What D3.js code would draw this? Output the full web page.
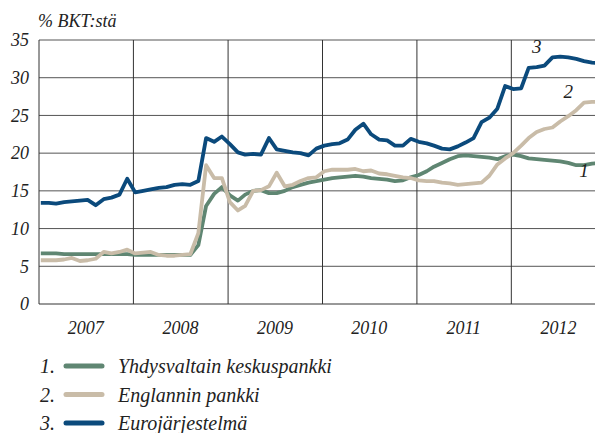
<!DOCTYPE html>
<html>
<head>
<meta charset="utf-8">
<script src="https://cdn.jsdelivr.net/npm/d3@7"></script>
<style>
  body { margin: 0; background: #fff; }
</style>
</head>
<body>
<div id="chart"></div>
<script>
// monthly values, Jan 2007 - Dec 2012
var startYear = 2007;
var years = ["2007", "2008", "2009", "2010", "2011", "2012"];
var yTicks = [0, 5, 10, 15, 20, 25, 30, 35];

var fed = [
  6.7, 6.7, 6.7, 6.6, 6.6, 6.6, 6.6, 6.6, 6.6, 6.6, 6.6, 6.6,
  6.5, 6.5, 6.5, 6.5, 6.5, 6.5, 6.5, 6.5, 7.8, 13.0, 14.6, 15.5,
  14.4, 13.7, 14.5, 15.0, 15.1, 14.7, 14.7, 15.0, 15.5, 15.8, 16.1, 16.3,
  16.5, 16.7, 16.8, 16.9, 17.0, 16.9, 16.7, 16.6, 16.5, 16.3, 16.4, 16.8,
  17.1, 17.6, 18.2, 18.7, 19.2, 19.6, 19.7, 19.6, 19.5, 19.4, 19.2, 19.6,
  19.8, 19.6, 19.3, 19.2, 19.1, 19.0, 18.9, 18.7, 18.4, 18.4, 18.6, 18.7
];
var boe = [
  5.8, 5.8, 5.8, 5.9, 6.1, 5.7, 5.8, 6.0, 6.9, 6.7, 6.9, 7.2,
  6.7, 6.8, 6.9, 6.5, 6.4, 6.4, 6.5, 6.6, 9.4, 18.4, 16.7, 16.7,
  13.5, 12.4, 13.0, 15.0, 15.1, 15.6, 17.4, 15.6, 15.8, 16.3, 16.7, 16.8,
  17.6, 17.8, 17.8, 17.8, 17.9, 17.6, 17.7, 17.3, 17.2, 17.0, 16.8, 16.7,
  16.4, 16.3, 16.3, 16.1, 16.0, 15.8, 15.9, 16.0, 16.1, 17.0, 18.5, 19.3,
  20.0, 21.0, 22.0, 22.8, 23.2, 23.4, 24.2, 24.9, 25.7, 26.7, 26.8, 26.8
];
var ecb = [
  13.4, 13.4, 13.3, 13.5, 13.6, 13.7, 13.8, 13.1, 13.9, 14.1, 14.5, 16.6,
  14.8, 15.0, 15.2, 15.4, 15.5, 15.8, 15.9, 15.8, 16.3, 22.0, 21.5, 22.2,
  21.2, 20.1, 19.8, 19.9, 19.8, 22.0, 20.5, 20.3, 20.1, 20.0, 19.7, 20.6,
  21.0, 21.2, 21.3, 21.8, 23.1, 23.9, 22.5, 21.8, 21.7, 21.0, 21.0, 21.9,
  21.5, 21.3, 21.0, 20.6, 20.5, 20.9, 21.4, 22.0, 24.1, 24.7, 25.9, 28.9,
  28.5, 28.6, 31.3, 31.4, 31.6, 32.7, 32.8, 32.7, 32.5, 32.2, 32.0, 31.9
];

var seriesNames = ["Yhdysvaltain keskuspankki", "Englannin pankki", "Eurojärjestelmä"];
var seriesColors = ["#5f8672", "#c9bca8", "#0b4a7c"];
var seriesData = [fed, boe, ecb];

var serif = "'Liberation Serif', 'Times New Roman', Times, 'DejaVu Serif', serif";

var svgWidth = 595;
var svgHeight = 433;
var margin = { top: 40, right: -11, bottom: 129, left: 39 };
var width = svgWidth - margin.left - margin.right;
var height = svgHeight - margin.top - margin.bottom;

var svg = d3.select("#chart")
  .append("svg")
  .attr("width", svgWidth)
  .attr("height", svgHeight)
  .attr("font-family", serif)
  .attr("font-style", "italic")
  .attr("fill", "#222");

var chart = svg.append("g")
  .attr("transform", `translate(${margin.left}, ${margin.top})`);

var x = d3.scaleTime()
  .domain([new Date(startYear, 0, 1), new Date(startYear + years.length, 0, 1)])
  .range([0, width]);
var y = d3.scaleLinear().domain([0, 35]).range([height, 0]);

function monthDate(i) { return new Date(startYear, i, 8); }

// horizontal grid
chart.append("g")
  .selectAll("line")
  .data(yTicks)
  .enter()
  .append("line")
  .attr("x1", 0)
  .attr("x2", width)
  .attr("y1", d => y(d))
  .attr("y2", d => y(d))
  .attr("stroke", d => d == 0 ? "#333" : "#555")
  .attr("stroke-width", 1);

// year dividers
var yearStarts = years.slice(1).map(yr => new Date(+yr, 0, 1));
chart.append("g")
  .selectAll("line")
  .data(yearStarts)
  .enter()
  .append("line")
  .attr("x1", d => x(d))
  .attr("x2", d => x(d))
  .attr("y1", 0)
  .attr("y2", height)
  .attr("stroke", "#333")
  .attr("stroke-width", 1);

chart.append("line")
  .attr("x1", 0).attr("x2", 0)
  .attr("y1", 0).attr("y2", height)
  .attr("stroke", "#333");

// y labels
chart.append("g")
  .selectAll("text")
  .data(yTicks)
  .enter()
  .append("text")
  .attr("x", -10)
  .attr("y", d => y(d))
  .attr("dy", "0.35em")
  .attr("text-anchor", "end")
  .attr("font-size", "18px")
  .text(d => d);

// year labels
chart.append("g")
  .selectAll("text")
  .data(years)
  .enter()
  .append("text")
  .attr("x", d => x(new Date(+d, 6, 1)))
  .attr("y", height + 30)
  .attr("text-anchor", "middle")
  .attr("font-size", "18px")
  .text(d => d);

// unit label
svg.append("text")
  .attr("x", 38)
  .attr("y", 27)
  .attr("font-size", "18px")
  .text("% BKT:stä");

// lines
var line = d3.line()
  .x((d, i) => x(monthDate(i)))
  .y(d => y(d));

seriesData.forEach(function(vals, k) {
  chart.append("path")
    .datum(vals)
    .attr("fill", "none")
    .attr("stroke", seriesColors[k])
    .attr("stroke-width", 3.8)
    .attr("stroke-linejoin", "round")
    .attr("d", line);
});

// line end labels
var endLabels = [
  { t: "1", i: 69.3, v: 16.9 },
  { t: "2", i: 67.6, v: 27.3 },
  { t: "3", i: 63, v: 33.3 }
];
chart.selectAll("text.endlab")
  .data(endLabels)
  .enter()
  .append("text")
  .attr("class", "endlab")
  .attr("x", d => x(monthDate(d.i)))
  .attr("y", d => y(d.v))
  .attr("text-anchor", "middle")
  .attr("font-size", "19px")
  .text(d => d.t);

// legend
var legend = svg.append("g")
  .selectAll("g")
  .data(seriesNames)
  .enter()
  .append("g")
  .attr("transform", (d, i) => `translate(0, ${366 + i * 28.5})`);

legend.append("text")
  .attr("x", 40)
  .attr("dy", "0.35em")
  .attr("font-size", "20px")
  .text((d, i) => (i + 1) + ".");

legend.append("line")
  .attr("x1", 66).attr("x2", 102)
  .attr("y1", 0).attr("y2", 0)
  .attr("stroke", (d, i) => seriesColors[i])
  .attr("stroke-width", 5)
  .attr("stroke-linecap", "round");

legend.append("text")
  .attr("x", 118)
  .attr("dy", "0.35em")
  .attr("font-size", "20px")
  .text(d => d);
</script>
</body>
</html>
